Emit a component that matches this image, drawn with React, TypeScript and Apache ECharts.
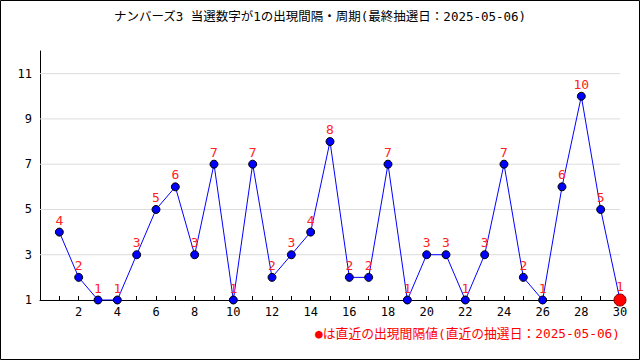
import React, { useEffect, useRef } from "react";
import * as echarts from "echarts";

const TITLE = "ナンバーズ3 当選数字が1の出現間隔・周期(最終抽選日：2025-05-06)";
const NOTE = "●は直近の出現間隔値(直近の抽選日：2025-05-06)";
const drawIndex = [1, 2, 3, 4, 5, 6, 7, 8, 9, 10, 11, 12, 13, 14, 15, 16, 17, 18, 19, 20, 21, 22, 23, 24, 25, 26, 27, 28, 29, 30];
const intervals = [4, 2, 1, 1, 3, 5, 6, 3, 7, 1, 7, 2, 3, 4, 8, 2, 2, 7, 1, 3, 3, 1, 3, 7, 2, 1, 6, 10, 5, 1];
const gridValues = [3, 5, 7, 9, 11];
const xRange = [0, 30];

const FONT = "'DejaVu Sans Mono', 'Noto Sans CJK JP', monospace";

export default function App() {
  const ref = useRef<HTMLDivElement>(null);
  useEffect(() => {
    document.body.style.margin = "0";
    const chart = echarts.init(ref.current!, null, { renderer: "svg" });
    const last = drawIndex.length - 1;
    const data = drawIndex.map((x, i) =>
      i === last
        ? {
            value: [x, intervals[i]],
            symbolSize: 12,
            itemStyle: { color: "#ff0000", borderColor: "#800000", borderWidth: 1 },
          }
        : { value: [x, intervals[i]] }
    );
    const gridSeries = gridValues.map((v) => ({
      type: "line",
      data: [
        [xRange[0], v],
        [xRange[1], v],
      ],
      z: 1,
      silent: true,
      symbol: "none",
      lineStyle: { color: "#dcdcdc", width: 1 },
    }));
    chart.setOption({
      animation: false,
      backgroundColor: "#ffffff",
      textStyle: { fontFamily: FONT },
      title: {
        text: TITLE,
        left: "center",
        top: 5,
        textStyle: { fontSize: 12.5, fontWeight: "normal", color: "#000", fontFamily: FONT },
      },
      grid: { left: 40, right: 20, top: 51, bottom: 60, containLabel: false },
      xAxis: {
        type: "value",
        min: xRange[0],
        max: xRange[1],
        interval: 1,
        axisLine: { show: true, lineStyle: { color: "#000", width: 1 } },
        axisTick: { show: true, inside: true, length: 4, lineStyle: { color: "#000" } },
        axisLabel: {
          color: "#000",
          fontSize: 12,
          margin: 6,
          fontFamily: FONT,
          formatter: (v: number) => (v > 0 && v % 2 === 0 ? String(v) : ""),
        },
        splitLine: { show: false },
        z: 4,
      },
      yAxis: {
        type: "value",
        min: 1,
        max: 12,
        interval: 1,
        axisLine: { show: true, lineStyle: { color: "#000", width: 1 } },
        axisTick: { show: false },
        axisLabel: {
          color: "#000",
          fontSize: 12,
          margin: 8,
          fontFamily: FONT,
          formatter: (v: number) => (v % 2 === 1 && v < 12 ? String(v) : ""),
        },
        splitLine: { show: false },
      },
      series: [
        ...gridSeries,
        {
          type: "line",
          z: 5,
          data,
          symbol: "circle",
          symbolSize: 8,
          lineStyle: { color: "#0000ff", width: 1 },
          itemStyle: { color: "#0000ff", borderColor: "#000", borderWidth: 1 },
          label: {
            show: true,
            position: "top",
            distance: 1,
            color: "#ff2222",
            fontSize: 13,
            fontFamily: FONT,
            formatter: (p: any) => String(p.value[1]),
          },
        },
      ],
      graphic: [
        {
          type: "rect",
          shape: { x: 0.5, y: 0.5, width: 639, height: 359 },
          style: { fill: "none", stroke: "#000", lineWidth: 1 },
          silent: true,
        },
        {
          type: "text",
          right: 20,
          top: 327,
          style: {
            text: NOTE,
            fill: "#ff0000",
            fontSize: 12.8,
            fontFamily: FONT,
          },
        },
      ],
    });
    return () => chart.dispose();
  }, []);
  return <div ref={ref} style={{ width: 640, height: 360 }} />;
}
